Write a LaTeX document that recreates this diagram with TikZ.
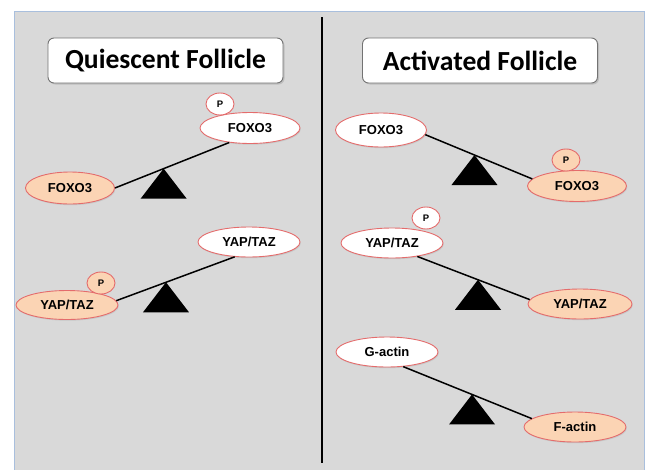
\documentclass[tikz,border=0pt]{standalone}
\usepackage{fontspec}
\setmainfont{Liberation Sans}
\newfontfamily\titlefont{Carlito}
\usetikzlibrary{shapes.geometric,shadows}
\definecolor{panelgrey}{HTML}{D9D9D9}
\definecolor{panelblue}{HTML}{A9BFDD}
\definecolor{peach}{HTML}{FBD4B4}
\definecolor{rimred}{HTML}{E46C6C}

\begin{document}
\begin{tikzpicture}[x=1pt, y=-1pt,
  prot/.style={ellipse, draw=rimred, line width=0.9pt, inner sep=0pt, minimum width=102pt, minimum height=30pt, drop shadow={opacity=0.2, shadow xshift=0.8pt, shadow yshift=-1.2pt}, font=\fontsize{13}{15}\selectfont\bfseries},
  free/.style={prot, fill=white},
  bound/.style={prot, fill=peach},
  phos/.style={ellipse, draw=rimred, line width=0.9pt, inner sep=0pt, minimum width=28pt, minimum height=22pt, font=\fontsize{9.5}{11}\selectfont\bfseries},
  titlebox/.style={draw=black!55, line width=0.9pt, rounded corners=6pt, fill=white, minimum width=235pt, minimum height=45pt, drop shadow={opacity=0.3, shadow xshift=1.5pt, shadow yshift=-1.5pt}, font=\titlefont\fontsize{27.6}{30}\selectfont\bfseries},
  beam/.style={line width=1.5pt}]
  \useasboundingbox (0,0) rectangle (645,469);
  \filldraw[fill=panelgrey, draw=panelblue, line width=1pt] (14,11) rectangle (644,472);
  \draw[line width=2.5pt] (322,17) -- (322,463);
  % titles
  \node[titlebox] (qtitle) at (165.5,60.5) {Quiescent Follicle};
  \node[titlebox] (atitle) at (480,60.5) {Activated Follicle};
  % quiescent follicle
  \node[free, minimum width=100pt, minimum height=31pt] (qfoxoa) at (250,128) {FOXO3};
  \node[phos, fill=white] (qp1) at (220,104) {P};
  \node[bound, minimum width=89pt, minimum height=32pt] (qfoxob) at (70,188) {FOXO3};
  \node[free] (qyapa) at (249,242) {YAP/TAZ};
  \node[bound, minimum height=29pt] (qyapb) at (67,305) {YAP/TAZ};
  \node[phos, fill=peach] (qp2) at (101,283) {P};
  \draw[beam] (qfoxob.east) -- (qfoxoa.215) coordinate[pos=0.426] (qpiv1);
  \draw[beam] (qyapb.5) -- (qyapa.226) coordinate[pos=0.42] (qpiv2);
  % activated follicle
  \node[free, minimum width=91pt, minimum height=34pt] (afoxoa) at (381,130) {FOXO3};
  \node[bound, minimum width=99pt, minimum height=31pt] (afoxob) at (577,186) {FOXO3};
  \node[phos, fill=peach] (ap1) at (566,160) {P};
  \node[free] (ayapa) at (392,243) {YAP/TAZ};
  \node[phos, fill=white] (ap2) at (426,218) {P};
  \node[bound, minimum width=104pt] (ayapb) at (580,304) {YAP/TAZ};
  \node[free] (gactin) at (387,352) {G-actin};
  \node[bound] (factin) at (575,427) {F-actin};
  \draw[beam] (afoxoa.-6) -- (afoxob.171) coordinate[pos=0.46] (apiv1);
  \draw[beam] (ayapa.-28) -- (ayapb.175) coordinate[pos=0.54] (apiv2);
  \draw[beam] (gactin.-42) -- (factin.169) coordinate[pos=0.535] (apiv3);
  % fulcrums
  \foreach \p in {qpiv1,qpiv2,apiv1,apiv2,apiv3}
    \fill (\p) -- ++(-23,30) -- ++(46,0) -- cycle;
\end{tikzpicture}
\end{document}
